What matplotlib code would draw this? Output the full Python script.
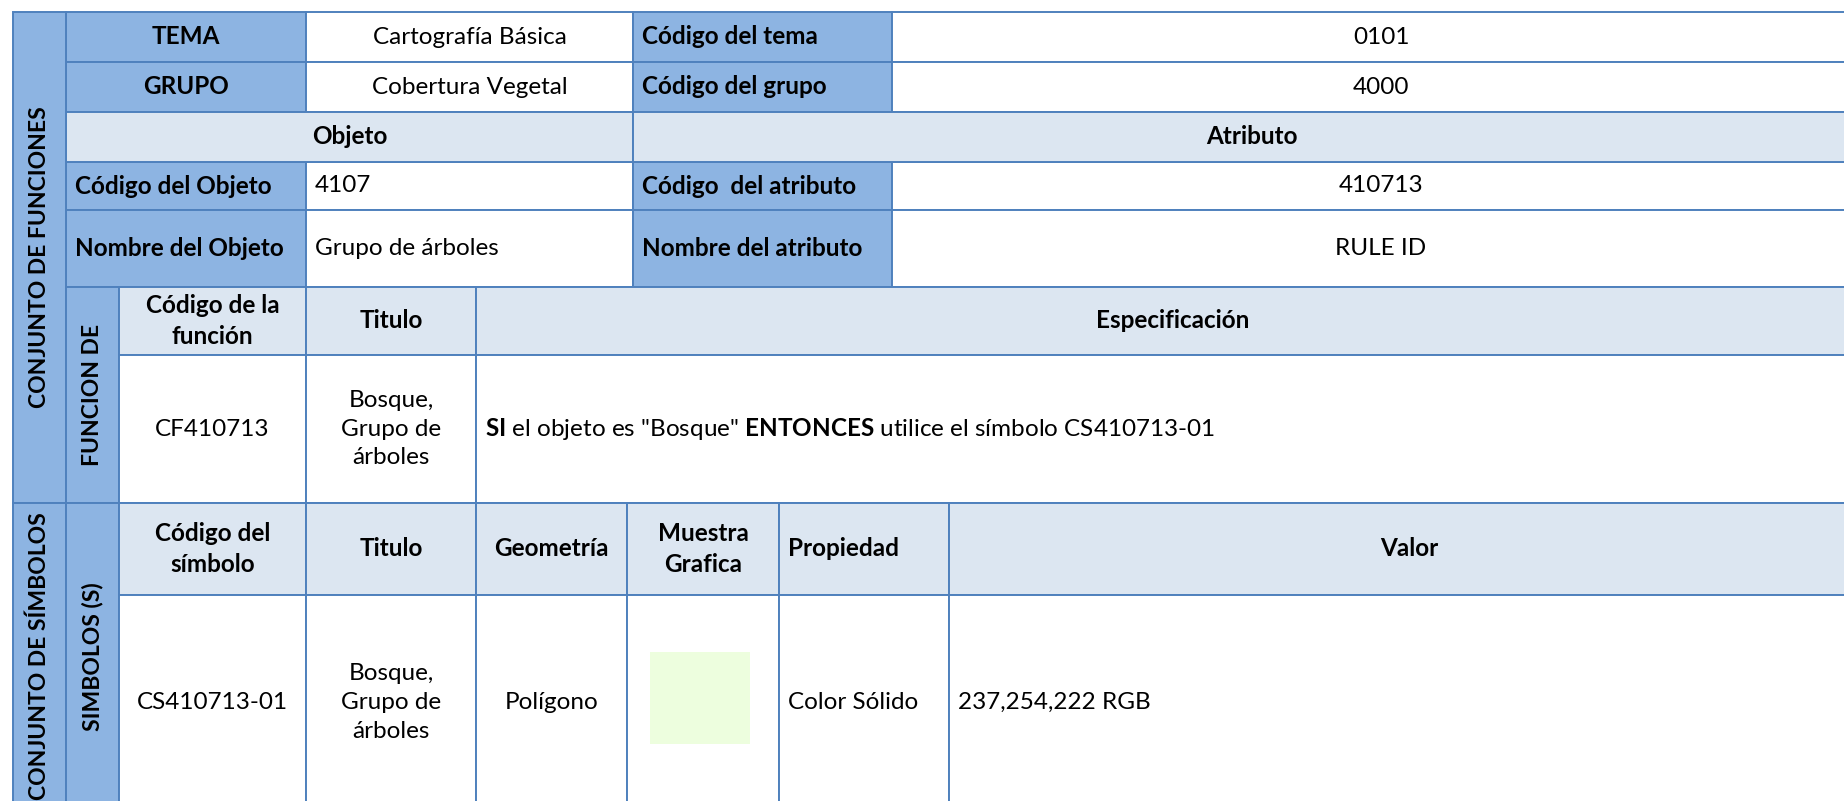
import matplotlib
matplotlib.use('Agg')
import matplotlib.pyplot as plt
from matplotlib.patches import Rectangle

plt.rcParams['font.family'] = ['Lato', 'DejaVu Sans']
plt.rcParams['mathtext.fontset'] = 'custom'
plt.rcParams['mathtext.rm'] = 'Lato'
plt.rcParams['mathtext.bf'] = 'Lato:bold'

# --- contenido de la ficha ---
tema_row = ['TEMA', 'Cartografía Básica', 'Código del tema', '0101']
grupo_row = ['GRUPO', 'Cobertura Vegetal', 'Código del grupo', '4000']
secciones = ['Objeto', 'Atributo']
codigo_row = ['Código del Objeto', '4107', 'Código  del atributo', '410713']
nombre_row = ['Nombre del Objeto', 'Grupo de árboles', 'Nombre del atributo', 'RULE ID']
func_head = ['Código de la\nfunción', 'Titulo', 'Especificación']
func_vals = ['CF410713', 'Bosque,\nGrupo de\nárboles',
             r'$\mathbf{SI}$ el objeto es "Bosque" $\mathbf{ENTONCES}$ utilice el símbolo CS410713-01']
sim_head = ['Código del\nsímbolo', 'Titulo', 'Geometría', 'Muestra\nGrafica', 'Propiedad', 'Valor']
sim_vals = ['CS410713-01', 'Bosque,\nGrupo de\nárboles', 'Polígono', '', 'Color Sólido', '237,254,222 RGB']
swatch_rgb = (237, 254, 222)
lado = ['CONJUNTO DE FUNCIONES', 'CONJUNTO DE SÍMBOLOS']
sub_lado = ['FUNCION DE', 'SIMBOLOS (S)']

DARK = '#8DB4E2'
LIGHT = '#DCE6F1'
EDGE = '#4F81BD'
FS = 17.5
W, H = 1844, 801
R = 1870   # la tabla sigue más allá del borde derecho
B = 810    # y del borde inferior

fig = plt.figure(figsize=(W / 100, H / 100), dpi=100)
ax = fig.add_axes([0, 0, 1, 1])
ax.set_xlim(0, W); ax.set_ylim(H, 0); ax.axis('off')


def cell(x0, x1, y0, y1, txt='', fill='white', ha='center', bold=False, rot=0):
    ax.add_patch(Rectangle((x0, y0), x1 - x0, y1 - y0, facecolor=fill,
                           edgecolor=EDGE, lw=1.4, zorder=1))
    if not txt:
        return
    tx = (x0 + x1) / 2 if ha == 'center' else x0 + 9
    ax.text(tx, (y0 + y1) / 2, txt, ha=ha, va='center', ma='center',
            fontsize=16.5 if rot else FS, weight='bold' if bold else 'normal',
            rotation=rot, linespacing=1.45, color='black', zorder=3)


# columnas de la parte superior
cx = [66, 306, 633, 892, R]
rows_top = [(12, 62, tema_row, 'center'), (62, 112, grupo_row, 'center'),
            (162, 210, codigo_row, 'left'), (210, 287, nombre_row, 'left')]
for y0, y1, vals, ha in rows_top:
    cell(cx[0], cx[1], y0, y1, vals[0], DARK, ha, True)
    cell(cx[1], cx[2], y0, y1, vals[1], 'white', ha)
    cell(cx[2], cx[3], y0, y1, vals[2], DARK, 'left', True)
    cell(cx[3], cx[4], y0, y1, vals[3], 'white', 'center')
cell(66, 633, 112, 162, secciones[0], LIGHT, bold=True)
cell(633, R, 112, 162, secciones[1], LIGHT, bold=True)

# columnas laterales
cell(13, 66, 12, 503, lado[0], DARK, bold=True, rot=90)
cell(13, 66, 503, B, lado[1], DARK, bold=True, rot=90)
cell(66, 119, 287, 503, sub_lado[0], DARK, bold=True, rot=90)
cell(66, 119, 503, B, sub_lado[1], DARK, bold=True, rot=90)

# función de representación
fx = [119, 306, 476, R]
for i, t in enumerate(func_head):
    cell(fx[i], fx[i + 1], 287, 355, t, LIGHT, bold=True)
for i, t in enumerate(func_vals):
    cell(fx[i], fx[i + 1], 355, 503, t, 'white', 'left' if i == 2 else 'center')

# símbolos
sx = [119, 306, 476, 627, 779, 949, R]
for i, t in enumerate(sim_head):
    cell(sx[i], sx[i + 1], 503, 595, t, LIGHT, 'left' if i == 4 else 'center', True)
for i, t in enumerate(sim_vals):
    cell(sx[i], sx[i + 1], 595, B, t, 'white', 'left' if i >= 4 else 'center')
ax.add_patch(Rectangle((650, 652), 100, 92, facecolor=[c / 255 for c in swatch_rgb],
                       edgecolor='none', zorder=2))

fig.savefig('out.png', dpi=100, facecolor='white')
